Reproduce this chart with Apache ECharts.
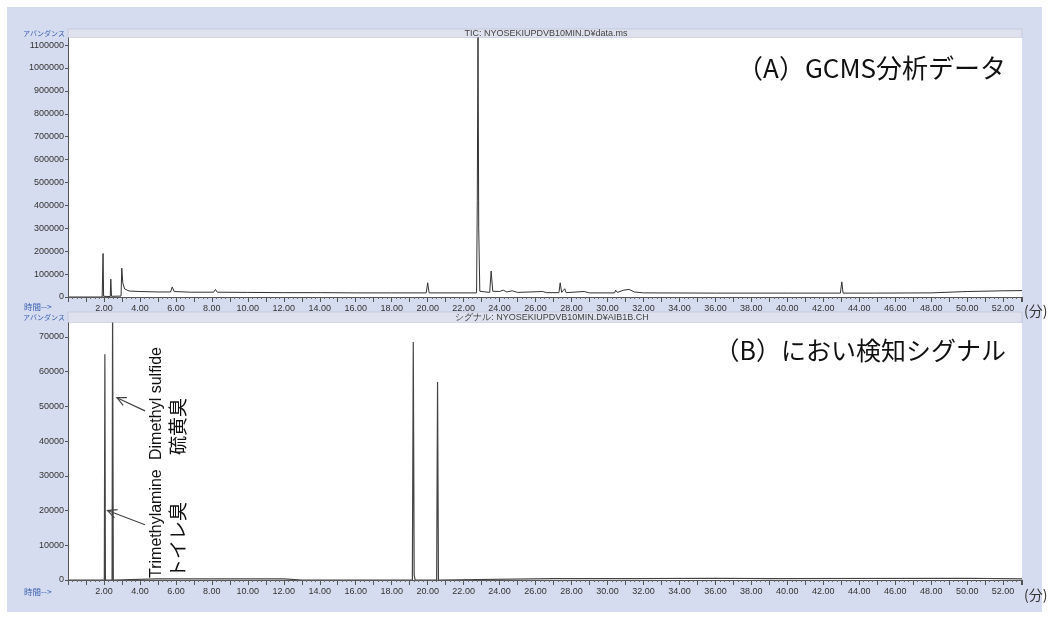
<!DOCTYPE html>
<html>
<head>
<meta charset="utf-8">
<script src="https://cdn.jsdelivr.net/npm/echarts@6/dist/echarts.min.js"></script>
<style>
html,body{margin:0;padding:0;background:#fff;}
#chart{width:1049px;height:617px;}
</style>
</head>
<body>
<div id="chart"></div>
<script>
// ---- Data (time in minutes, abundance) ----
var ticTimes = [0, 1.9, 1.93, 1.95, 1.98, 2.35, 2.38, 2.42, 2.95, 2.99, 3.05, 3.15, 3.4, 4, 5, 5.7, 5.8, 5.9, 6.8, 6.87, 6.95, 8.1, 8.2, 8.3, 10, 12, 13.8, 13.9, 14.1, 16, 18, 19.92, 20.0, 20.08, 22.72, 22.76, 22.8, 22.84, 22.9, 23.45, 23.53, 23.62, 24.0, 24.2, 24.4, 24.7, 25, 26.4, 26.6, 27.3, 27.37, 27.45, 27.62, 27.7, 28.7, 29, 30.4, 30.45, 30.55, 30.9, 31.2, 31.5, 32, 36, 40, 42.95, 43.03, 43.1, 44.8, 44.87, 44.95, 48, 50, 52, 53.05];
var ticValues = [0, 0, 0, 190000, 3000, 2000, 78000, 3000, 4000, 126000, 60000, 35000, 26000, 24000, 22000, 22000, 44000, 24000, 21000, 27000, 21000, 21000, 33000, 21000, 20000, 19000, 19000, 24000, 19000, 18000, 18000, 18000, 62000, 18000, 18000, 420000, 1200000, 300000, 25000, 20000, 113000, 25000, 24000, 30000, 22000, 27000, 20000, 24000, 19000, 19000, 62000, 20000, 36000, 19000, 24000, 18000, 18000, 30000, 20000, 30000, 33000, 22000, 18000, 17000, 17000, 17000, 66000, 17000, 17000, 23000, 17000, 18000, 24000, 27000, 28000];

var sigTimes = [0, 2.02, 2.05, 2.08, 2.45, 2.48, 2.52, 5, 12, 13, 19.15, 19.2, 19.25, 19.3, 20.5, 20.55, 20.6, 27, 31.3, 36, 39, 50, 53.05];
var sigValues = [0, 0, 65000, 0, 0, 80000, 0, 300, 300, 0, 0, 68500, 1500, 0, 0, 57000, 0, 400, 400, 500, 400, 500, 300];

var yTicksA = [0, 100000, 200000, 300000, 400000, 500000, 600000, 700000, 800000, 900000, 1000000, 1100000];
var yTicksB = [0, 10000, 20000, 30000, 40000, 50000, 60000, 70000];
var xLabelTimes = [2, 4, 6, 8, 10, 12, 14, 16, 18, 20, 22, 24, 26, 28, 30, 32, 34, 36, 38, 40, 42, 44, 46, 48, 50, 52];

var titleA = '（A）GCMS分析データ';
var titleB = '（B）におい検知シグナル';
var fileA = 'TIC: NYOSEKIUPDVB10MIN.D¥data.ms';
var fileB = 'シグナル: NYOSEKIUPDVB10MIN.D¥AIB1B.CH';

function pairs(t, v) { return t.map(function (x, i) { return [x, v[i]]; }); }

var chart = echarts.init(document.getElementById('chart'), null, {renderer: 'canvas'});
var LAT = 'Liberation Sans, Arial, sans-serif';
var JP = 'Noto Sans CJK JP, sans-serif';

function xAxisCfg(gi) {
  return {
    type: 'value', gridIndex: gi, min: 0, max: 53.05, interval: 1, z: 5,
    axisLine: {show: true, onZero: false, lineStyle: {color: '#555', width: 1}},
    axisTick: {show: true, length: 5, inside: false, lineStyle: {color: '#555'}},
    minorTick: {show: true, splitNumber: 4, length: 2, lineStyle: {color: '#666'}},
    splitLine: {show: false},
    axisLabel: {
      show: true, margin: 7, fontSize: 9, color: '#333', fontFamily: LAT, showMaxLabel: false, showMinLabel: false,
      formatter: function (v) { return xLabelTimes.indexOf(Math.round(v * 100) / 100) >= 0 ? v.toFixed(2) : ''; }
    }
  };
}
function yAxisCfg(gi, max, interval, ticks) {
  return {
    type: 'value', gridIndex: gi, min: 0, max: max, interval: interval, z: 5,
    axisLine: {show: true, lineStyle: {color: '#555', width: 1}},
    axisTick: {show: true, length: 3, lineStyle: {color: '#555'}},
    splitLine: {show: false},
    axisLabel: {
      show: true, margin: 4, fontSize: 9, color: '#333', fontFamily: LAT, showMaxLabel: false,
      formatter: function (v) { return ticks.indexOf(v) >= 0 ? String(v) : ''; }
    }
  };
}

var option = {
  backgroundColor: '#ffffff',
  animation: false,
  grid: [
    {left: 68, top: 38, width: 954, height: 259, show: false},
    {left: 68, top: 323, width: 954, height: 257, show: false}
  ],
  xAxis: [xAxisCfg(0), xAxisCfg(1)],
  yAxis: [yAxisCfg(0, 1131000, 100000, yTicksA), yAxisCfg(1, 74000, 10000, yTicksB)],
  series: [
    {type: 'line', xAxisIndex: 0, yAxisIndex: 0, data: pairs(ticTimes, ticValues), showSymbol: false, clip: true,
     lineStyle: {color: '#333', width: 1}, z: 3},
    {type: 'line', xAxisIndex: 1, yAxisIndex: 1, data: pairs(sigTimes, sigValues), showSymbol: false, clip: true,
     lineStyle: {color: '#444', width: 1.2}, z: 3}
  ]
};
chart.setOption(option);

function P(gi, x, y) { return chart.convertToPixel({gridIndex: gi}, [x, y]); }

function arrow(tail, tip) {
  var dx = tail[0] - tip[0], dy = tail[1] - tip[1];
  var len = Math.sqrt(dx * dx + dy * dy); dx /= len; dy /= len;
  var h = 10, a = 0.45;
  var c = Math.cos(a), s = Math.sin(a);
  var w1 = [tip[0] + h * (dx * c - dy * s), tip[1] + h * (dx * s + dy * c)];
  var w2 = [tip[0] + h * (dx * c + dy * s), tip[1] + h * (-dx * s + dy * c)];
  return [
    {type: 'polyline', z: 20, shape: {points: [tail, tip]}, style: {stroke: '#444', lineWidth: 1.2, fill: null}},
    {type: 'polyline', z: 20, shape: {points: [w1, tip, w2]}, style: {stroke: '#444', lineWidth: 1.2, fill: null}}
  ];
}

var g = [
  {type: 'rect', z: -10, shape: {x: 7, y: 7, width: 1035, height: 605}, style: {fill: '#d6dcef'}},
  {type: 'rect', z: -9, shape: {x: 68, y: 29, width: 954, height: 9}, style: {fill: '#dfe2ee', stroke: '#c5cadc', lineWidth: 1}},
  {type: 'rect', z: -9, shape: {x: 68, y: 312, width: 954, height: 11}, style: {fill: '#dfe2ee', stroke: '#c5cadc', lineWidth: 1}},
  {type: 'rect', z: -8, shape: {x: 68, y: 38, width: 954, height: 259}, style: {fill: '#ffffff'}},
  {type: 'rect', z: -8, shape: {x: 68, y: 323, width: 954, height: 257}, style: {fill: '#ffffff'}},
  {type: 'text', z: 10, x: 546, y: 34, style: {text: fileA, font: '9px ' + LAT, fill: '#444', align: 'center', verticalAlign: 'middle'}},
  {type: 'text', z: 10, x: 552, y: 318, style: {text: fileB, font: '9px ' + LAT, fill: '#444', align: 'center', verticalAlign: 'middle'}},
  {type: 'text', z: 10, x: 23, y: 33, style: {text: 'アバンダンス', font: '7px ' + JP, fill: '#3a5fb0', align: 'left', verticalAlign: 'middle'}},
  {type: 'text', z: 10, x: 23, y: 317, style: {text: 'アバンダンス', font: '7px ' + JP, fill: '#3a5fb0', align: 'left', verticalAlign: 'middle'}},
  {type: 'text', z: 10, x: 24, y: 307, style: {text: '時間-->', font: '8.5px ' + JP, fill: '#3a5fb0', align: 'left', verticalAlign: 'middle'}},
  {type: 'text', z: 10, x: 24, y: 592, style: {text: '時間-->', font: '8.5px ' + JP, fill: '#3a5fb0', align: 'left', verticalAlign: 'middle'}},
  {type: 'text', z: 10, x: 1024, y: 311, style: {text: '(分)', font: '14px ' + JP, fill: '#333', align: 'left', verticalAlign: 'middle'}},
  {type: 'text', z: 10, x: 1024, y: 595, style: {text: '(分)', font: '14px ' + JP, fill: '#333', align: 'left', verticalAlign: 'middle'}},
  {type: 'text', z: 10, x: 1006, y: 68, style: {text: titleA, font: '26px ' + JP, fill: '#111', align: 'right', verticalAlign: 'middle'}},
  {type: 'text', z: 10, x: 1006, y: 350, style: {text: titleB, font: '25px ' + JP, fill: '#111', align: 'right', verticalAlign: 'middle'}},
  {type: 'text', z: 10, x: 157, y: 578, rotation: Math.PI / 2, style: {text: 'Trimethylamine', font: '16px ' + LAT, fill: '#111', align: 'left', verticalAlign: 'middle'}},
  {type: 'text', z: 10, x: 178, y: 578, rotation: Math.PI / 2, style: {text: 'トイレ臭', font: '19px ' + JP, fill: '#111', align: 'left', verticalAlign: 'middle'}},
  {type: 'text', z: 10, x: 157, y: 460, rotation: Math.PI / 2, style: {text: 'Dimethyl sulfide', font: '16px ' + LAT, fill: '#111', align: 'left', verticalAlign: 'middle'}},
  {type: 'text', z: 10, x: 178, y: 455, rotation: Math.PI / 2, style: {text: '硫黄臭', font: '19px ' + JP, fill: '#111', align: 'left', verticalAlign: 'middle'}}
];
g = g.concat(arrow(P(1, 4.28, 15900), P(1, 2.2, 20000)));
g = g.concat(arrow(P(1, 4.28, 48700), P(1, 2.72, 52500)));
chart.setOption({graphic: g});
</script>
</body>
</html>
